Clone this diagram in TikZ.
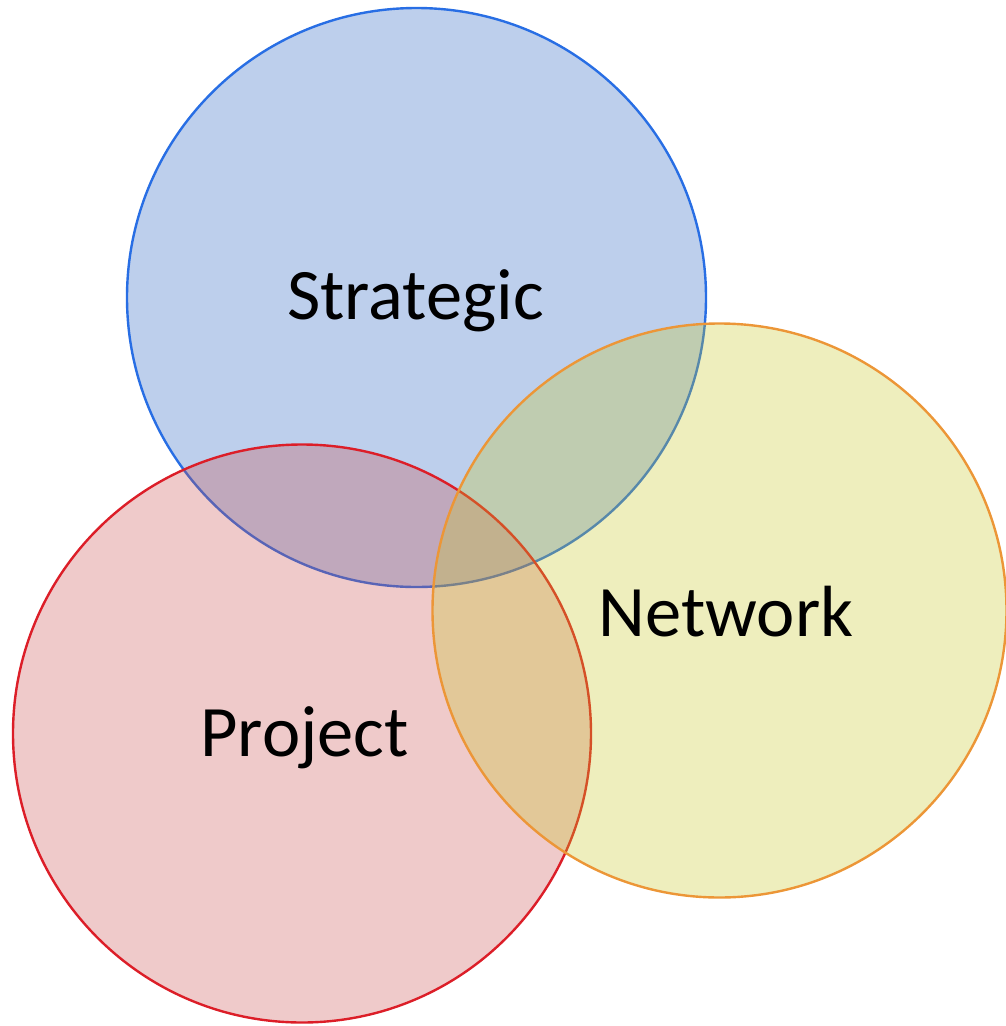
\documentclass[tikz,border=0pt]{standalone}
\usepackage{fontspec}
\setmainfont{Carlito}

\begin{document}
\begin{tikzpicture}[x=1pt,y=-1pt]
\useasboundingbox (0,0) rectangle (1005,1026);
\tikzset{setlabel/.style={anchor=base, text=black, font=\fontsize{72.5}{86}\selectfont}}
\definecolor{myFill}{RGB}{35,95,192}
\definecolor{myLine}{RGB}{40,110,228}
\draw[myLine, line width=2.4pt, fill=myFill, fill opacity=0.3] (416.5,297.5) circle (289.5);
\definecolor{myFill}{RGB}{202,78,78}
\definecolor{myLine}{RGB}{220,30,40}
\draw[myLine, line width=2.4pt, fill=myFill, fill opacity=0.3] (302,733.5) circle (289);
\definecolor{myFill}{RGB}{198,198,38}
\definecolor{myLine}{RGB}{236,150,55}
\draw[myLine, line width=2.4pt, fill=myFill, fill opacity=0.3] (719.5,610.5) circle (287);
\node[setlabel] (strategic) at (415.5,319) {Strategic};
\node[setlabel] (network) at (726,636) {Network};
\node[setlabel] (project) at (304.5,756) {Project};
\end{tikzpicture}
\end{document}
